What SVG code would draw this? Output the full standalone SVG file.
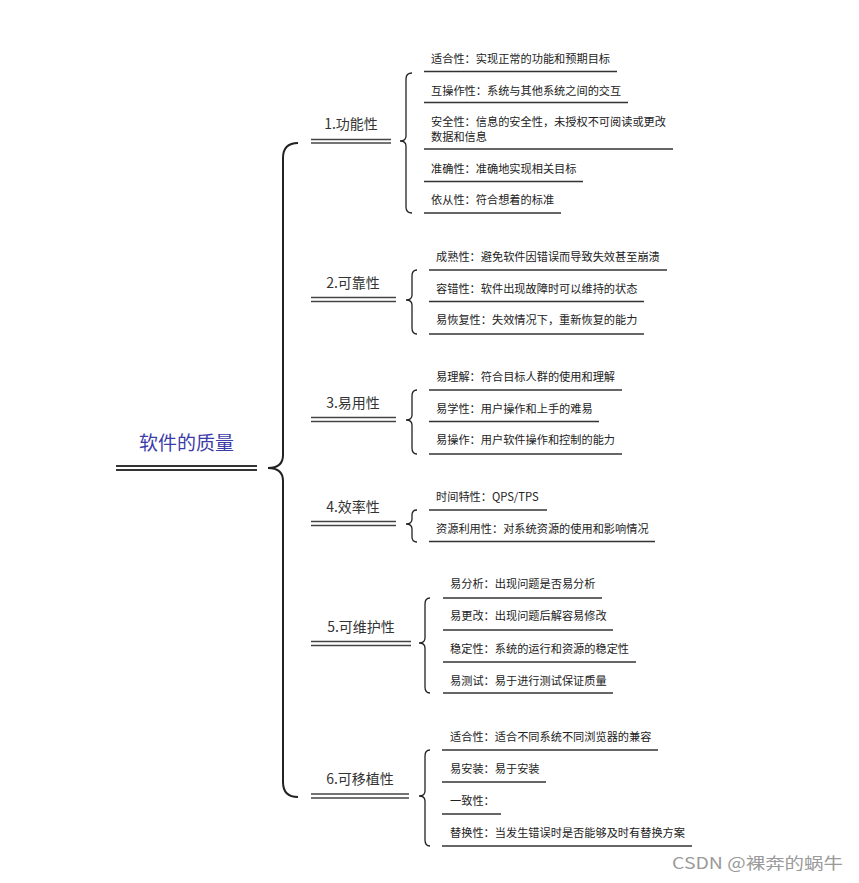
<svg xmlns="http://www.w3.org/2000/svg" width="859" height="883" viewBox="0 0 859 883">
<style>
text{font-family:"Noto Sans CJK SC","Noto Sans",sans-serif}
.root{font-size:19px;fill:#3c3ca8}
.l1{font-size:14px;fill:#333;text-anchor:middle}
.l2{font-size:11.2px;fill:#222}
.dl{stroke:#444;stroke-width:1.4;fill:none}
.rl{stroke:#333;stroke-width:1.8;fill:none}
.ul{stroke:#333;stroke-width:1.4;fill:none}
.br{stroke:#222;stroke-width:1.3;fill:none}
.rb{stroke:#222;stroke-width:2;fill:none}
.wm{font-size:16px;fill:#9a9a9a;font-family:"Noto Sans CJK SC","Liberation Sans",sans-serif}
</style>
<rect width="859" height="883" fill="#fff"/>
<g id="connectors">
<path class="rb" d="M298,143 Q283,143 283,158 L283,455 Q283,468 268,468 Q283,468 283,481 L283,782 Q283,797 298,797"/>
<path class="br" d="M412,73 Q406,73 406,79 L406,136 Q406,141 400,141 Q406,141 406,146 L406,207 Q406,213 412,213"/>
<path class="br" d="M417,270 Q412,270 412,276 L412,295 Q412,300 406,300 Q412,300 412,305 L412,328 Q412,334 417,334"/>
<path class="br" d="M417,390 Q412,390 412,396 L412,415 Q412,420 406,420 Q412,420 412,425 L412,448 Q412,454 417,454"/>
<path class="br" d="M417,510 Q412,510 412,515 L412,519 Q412,524 406,524 Q412,524 412,529 L412,537 Q412,542 417,542"/>
<path class="br" d="M430,598 Q425,598 425,604 L425,638 Q425,643 419,643 Q425,643 425,648 L425,687 Q425,693 430,693"/>
<path class="br" d="M430,750 Q425,750 425,756 L425,791 Q425,796 419,796 Q425,796 425,801 L425,840 Q425,846 430,846"/>
</g>
<g id="root">
<text class="root" x="139" y="450">软件的质量</text>
<line class="rl" x1="116" y1="466" x2="257" y2="466"/>
<line class="rl" x1="116" y1="470" x2="257" y2="470"/>
</g>
<g id="n1">
<text class="l1" x="351" y="129">1.功能性</text>
<line class="dl" x1="311" y1="139.5" x2="391" y2="139.5"/>
<line class="dl" x1="311" y1="143" x2="391" y2="143"/>
</g>
<g id="n1-1"><text class="l2" x="431" y="63">适合性：实现正常的功能和预期目标</text><line class="ul" x1="424" y1="71.5" x2="617" y2="71.5"/></g>
<g id="n1-2"><text class="l2" x="431" y="95">互操作性：系统与其他系统之间的交互</text><line class="ul" x1="424" y1="102.5" x2="628" y2="102.5"/></g>
<g id="n1-3"><text class="l2" x="431" y="126">安全性：信息的安全性，未授权不可阅读或更改</text><text class="l2" x="431" y="140.5">数据和信息</text><line class="ul" x1="424" y1="149" x2="673" y2="149"/></g>
<g id="n1-4"><text class="l2" x="431" y="173">准确性：准确地实现相关目标</text><line class="ul" x1="424" y1="181.5" x2="583" y2="181.5"/></g>
<g id="n1-5"><text class="l2" x="431" y="204">依从性：符合想着的标准</text><line class="ul" x1="424" y1="213" x2="561" y2="213"/></g>
<g id="n2">
<text class="l1" x="353" y="288">2.可靠性</text>
<line class="dl" x1="311" y1="297.5" x2="396" y2="297.5"/>
<line class="dl" x1="311" y1="301.5" x2="396" y2="301.5"/>
</g>
<g id="n2-1"><text class="l2" x="436" y="261">成熟性：避免软件因错误而导致失效甚至崩溃</text><line class="ul" x1="429" y1="270" x2="667" y2="270"/></g>
<g id="n2-2"><text class="l2" x="436" y="293">容错性：软件出现故障时可以维持的状态</text><line class="ul" x1="429" y1="301.5" x2="644" y2="301.5"/></g>
<g id="n2-3"><text class="l2" x="436" y="324">易恢复性：失效情况下，重新恢复的能力</text><line class="ul" x1="429" y1="334" x2="644" y2="334"/></g>
<g id="n3">
<text class="l1" x="353" y="408">3.易用性</text>
<line class="dl" x1="311" y1="417.5" x2="396" y2="417.5"/>
<line class="dl" x1="311" y1="421.5" x2="396" y2="421.5"/>
</g>
<g id="n3-1"><text class="l2" x="436" y="381">易理解：符合目标人群的使用和理解</text><line class="ul" x1="429" y1="390" x2="622" y2="390"/></g>
<g id="n3-2"><text class="l2" x="436" y="413">易学性：用户操作和上手的难易</text><line class="ul" x1="429" y1="421.5" x2="599" y2="421.5"/></g>
<g id="n3-3"><text class="l2" x="436" y="444">易操作：用户软件操作和控制的能力</text><line class="ul" x1="429" y1="454" x2="622" y2="454"/></g>
<g id="n4">
<text class="l1" x="353" y="512">4.效率性</text>
<line class="dl" x1="311" y1="521.5" x2="396" y2="521.5"/>
<line class="dl" x1="311" y1="525.5" x2="396" y2="525.5"/>
</g>
<g id="n4-1"><text class="l2" x="436" y="501">时间特性：QPS/TPS</text><line class="ul" x1="429" y1="510" x2="547" y2="510"/></g>
<g id="n4-2"><text class="l2" x="436" y="533">资源利用性：对系统资源的使用和影响情况</text><line class="ul" x1="429" y1="541.5" x2="655" y2="541.5"/></g>
<g id="n5">
<text class="l1" x="361" y="632">5.可维护性</text>
<line class="dl" x1="311" y1="641.5" x2="411" y2="641.5"/>
<line class="dl" x1="311" y1="645.5" x2="411" y2="645.5"/>
</g>
<g id="n5-1"><text class="l2" x="450" y="588">易分析：出现问题是否易分析</text><line class="ul" x1="443" y1="598" x2="602" y2="598"/></g>
<g id="n5-2"><text class="l2" x="450" y="620">易更改：出现问题后解容易修改</text><line class="ul" x1="443" y1="630" x2="613" y2="630"/></g>
<g id="n5-3"><text class="l2" x="450" y="653">稳定性：系统的运行和资源的稳定性</text><line class="ul" x1="443" y1="662" x2="636" y2="662"/></g>
<g id="n5-4"><text class="l2" x="450" y="685">易测试：易于进行测试保证质量</text><line class="ul" x1="443" y1="693" x2="613" y2="693"/></g>
<g id="n6">
<text class="l1" x="360" y="784">6.可移植性</text>
<line class="dl" x1="311" y1="794" x2="409" y2="794"/>
<line class="dl" x1="311" y1="798" x2="409" y2="798"/>
</g>
<g id="n6-1"><text class="l2" x="450" y="741">适合性：适合不同系统不同浏览器的兼容</text><line class="ul" x1="442" y1="750" x2="658" y2="750"/></g>
<g id="n6-2"><text class="l2" x="450" y="773">易安装：易于安装</text><line class="ul" x1="442" y1="782" x2="546" y2="782"/></g>
<g id="n6-3"><text class="l2" x="450" y="805">一致性：</text><line class="ul" x1="442" y1="814" x2="501" y2="814"/></g>
<g id="n6-4"><text class="l2" x="450" y="837">替换性：当发生错误时是否能够及时有替换方案</text><line class="ul" x1="442" y1="846" x2="692" y2="846"/></g>
<text class="wm" x="672" y="869" textLength="171" lengthAdjust="spacingAndGlyphs">CSDN @裸奔的蜗牛</text>
</svg>
